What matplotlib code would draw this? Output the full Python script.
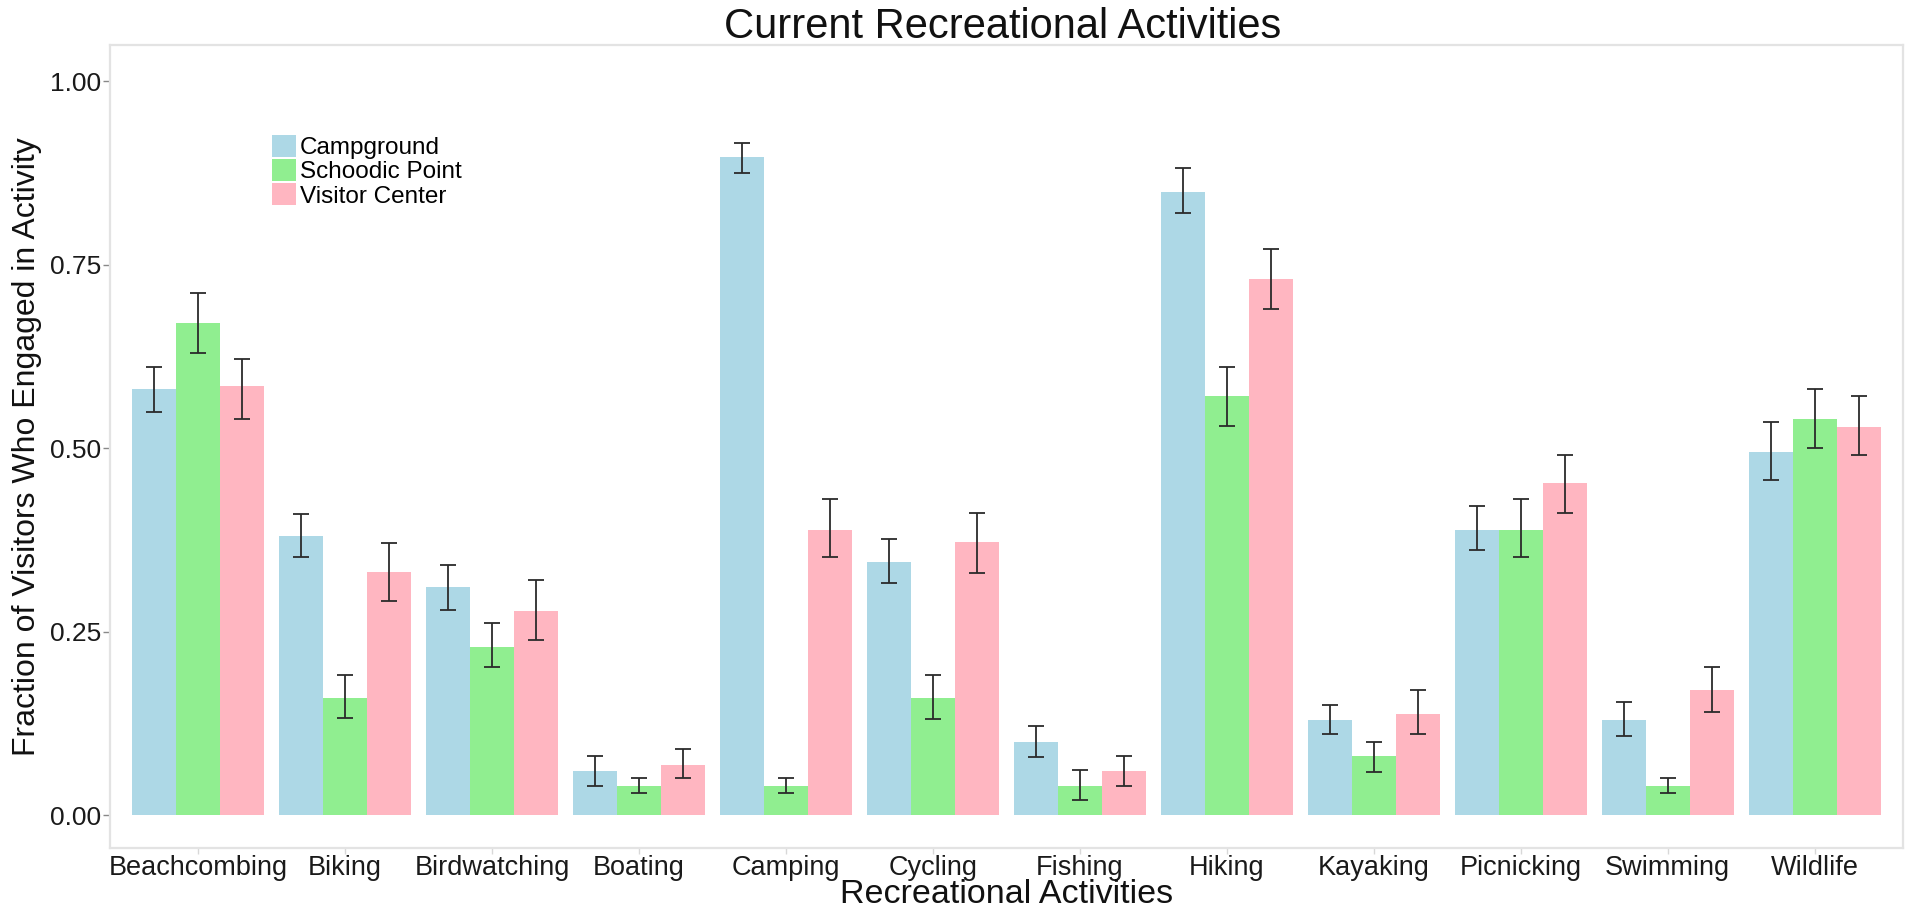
import matplotlib
matplotlib.use("Agg")
import matplotlib.pyplot as plt
from matplotlib.patches import Patch
import numpy as np

plt.rcParams['font.family'] = ['Liberation Sans', 'DejaVu Sans']

# Activities on the x axis
categories = ["Beachcombing", "Biking", "Birdwatching", "Boating", "Camping",
              "Cycling", "Fishing", "Hiking", "Kayaking", "Picnicking",
              "Swimming", "Wildlife"]

# Fraction of visitors per survey site, with lower / upper error limits
campground    = [0.580, 0.380, 0.310, 0.060, 0.897, 0.345, 0.100, 0.849, 0.130, 0.388, 0.130, 0.495]
campground_lo = [0.549, 0.351, 0.280, 0.040, 0.875, 0.316, 0.079, 0.820, 0.110, 0.361, 0.108, 0.456]
campground_hi = [0.611, 0.410, 0.341, 0.080, 0.916, 0.376, 0.121, 0.881, 0.150, 0.421, 0.154, 0.536]

schoodic    = [0.670, 0.159, 0.229, 0.040, 0.040, 0.159, 0.040, 0.571, 0.080, 0.388, 0.040, 0.540]
schoodic_lo = [0.630, 0.132, 0.201, 0.030, 0.030, 0.131, 0.020, 0.530, 0.059, 0.351, 0.030, 0.500]
schoodic_hi = [0.711, 0.191, 0.261, 0.051, 0.051, 0.191, 0.061, 0.611, 0.100, 0.430, 0.051, 0.580]

visitor    = [0.584, 0.331, 0.278, 0.068, 0.389, 0.372, 0.060, 0.730, 0.138, 0.452, 0.170, 0.529]
visitor_lo = [0.540, 0.292, 0.239, 0.050, 0.351, 0.330, 0.040, 0.689, 0.110, 0.411, 0.141, 0.490]
visitor_hi = [0.621, 0.370, 0.320, 0.090, 0.430, 0.411, 0.080, 0.771, 0.170, 0.490, 0.201, 0.571]

series_names = ["Campground", "Schoodic Point", "Visitor Center"]
series_colors = ["#ADD8E6", "#90EE90", "#FFB6C1"]

y_ticks = [0.0, 0.25, 0.50, 0.75, 1.00]

fig = plt.figure(figsize=(19.05, 9.07), dpi=100)
ax = fig.add_axes([0.0577, 0.0650, 0.9412, 0.8853])

x = np.arange(len(categories))
bar_w = 0.3
series = [
    (campground, campground_lo, campground_hi),
    (schoodic, schoodic_lo, schoodic_hi),
    (visitor, visitor_lo, visitor_hi),
]
for i, ((vals, lo, hi), color) in enumerate(zip(series, series_colors)):
    pos = x + (i - 1) * bar_w
    vals = np.array(vals)
    ax.bar(pos, vals, width=bar_w, color=color, edgecolor='none', zorder=2)
    yerr = np.vstack([vals - np.array(lo), np.array(hi) - vals])
    ax.errorbar(pos, vals, yerr=yerr, fmt='none', ecolor='#2b2b2b',
                elinewidth=1.3, capsize=5.6, capthick=1.3, zorder=3)

ax.set_xlim(-0.6, len(categories) - 0.4)
ax.set_ylim(-0.045, 1.049)
ax.set_xticks(x)
ax.set_xticklabels(categories, fontsize=19.5, color='#1a1a1a')
ax.set_yticks(y_ticks)
ax.set_yticklabels([f"{v:.2f}" for v in y_ticks], fontsize=19, color='#1a1a1a')
ax.tick_params(axis='y', length=5, width=1, color='#888888', pad=1.5)
ax.tick_params(axis='x', length=4, width=1, color='#d8d8d8', pad=1)

for side in ax.spines.values():
    side.set_color('#e3e3e3')
    side.set_linewidth(1.6)

ax.set_xlabel("Recreational Activities", fontsize=24.5, color='#111111')
ax.xaxis.set_label_coords(0.5, -0.058)
ax.xaxis.label.set_va('center')
ax.set_ylabel("Fraction of Visitors Who Engaged in Activity", fontsize=23, color='#111111')
ax.yaxis.set_label_coords(-0.0463, 0.5)
ax.yaxis.label.set_va('center')

fig.text(0.5265, 0.958, "Current Recreational Activities", fontsize=30,
         ha='center', va='baseline', color='#111111')

handles = [Patch(facecolor=c, edgecolor='none') for c in series_colors]
ax.legend(handles, series_names, loc='upper left', bbox_to_anchor=(0.0904, 0.888),
          frameon=False, fontsize=17.5, handlelength=1.0, handleheight=1.0,
          labelspacing=0.0, handletextpad=0.15, borderpad=0.0, borderaxespad=0.0)

fig.savefig("out.png", dpi=100, facecolor='white')
